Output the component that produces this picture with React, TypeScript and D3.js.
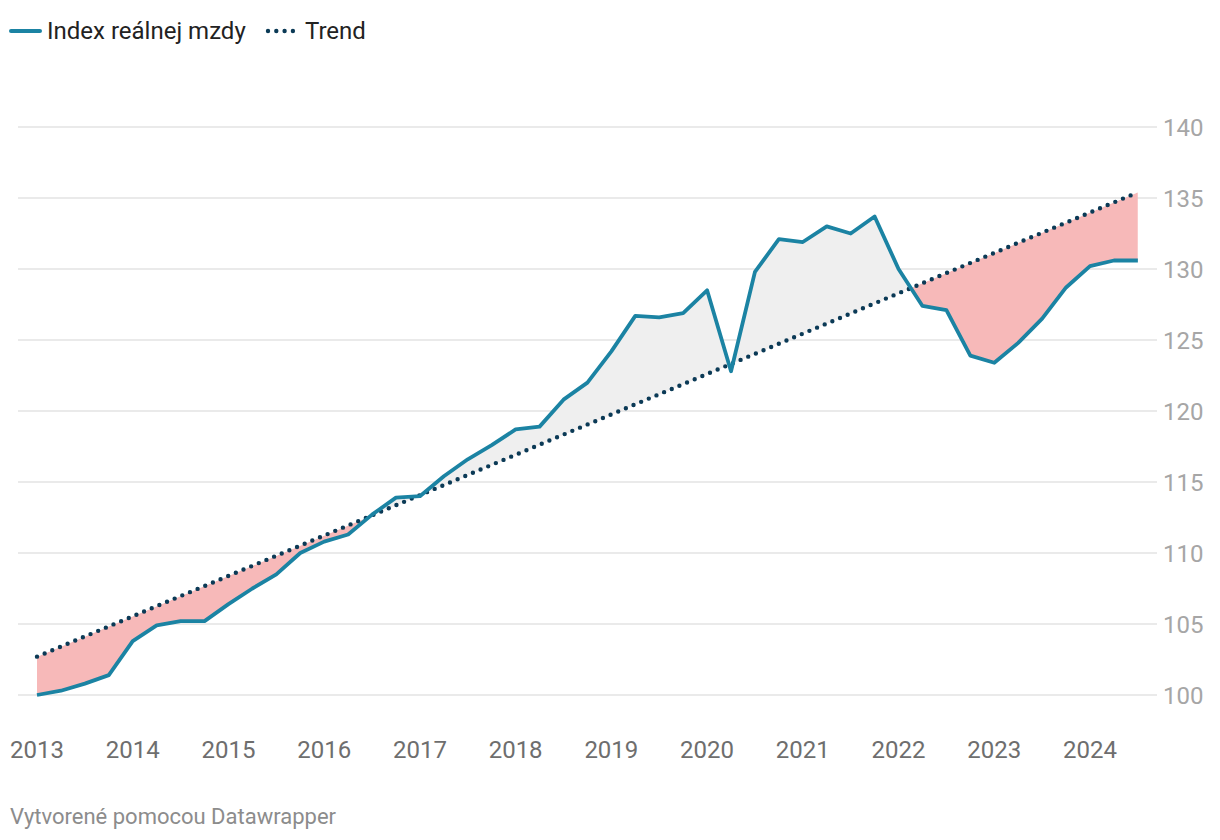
import { useMemo } from "react";
import * as d3 from "d3";

const width = 1220;
const height = 840;
const margin = { top: 127, right: 82, bottom: 145, left: 37 };

// quarterly observations, starting 2013 Q1
const startYear = 2013;
const wageIndex = [
  100.0, 100.3, 100.8, 101.4,
  103.8, 104.9, 105.2, 105.2,
  106.4, 107.5, 108.5, 110.0,
  110.8, 111.3, 112.7, 113.9,
  114.0, 115.4, 116.6, 117.6,
  118.7, 118.9, 120.8, 122.0,
  124.2, 126.7, 126.6, 126.9,
  128.5, 122.8, 129.8, 132.1,
  131.9, 133.0, 132.5, 133.7,
  130.0, 127.4, 127.1, 123.9,
  123.4, 124.8, 126.5, 128.7,
  130.2, 130.6, 130.6,
];
const trendStart = 102.7;
const trendEnd = 135.4;
const yTicks = [100, 105, 110, 115, 120, 125, 130, 135, 140];
const xTicks = [2013, 2014, 2015, 2016, 2017, 2018, 2019, 2020, 2021, 2022, 2023, 2024];

const lineColor = "#1b83a3";
const trendColor = "#0b3a56";
const font = "Roboto, 'Noto Sans', sans-serif";

const App = () => {
  const chart = useMemo(() => {
    const points = wageIndex.map((v, i) => ({ t: startYear + i * 0.25, v }));
    const tEnd = points[points.length - 1].t;

    const xScale = d3
      .scaleLinear()
      .domain([startYear, 2024])
      .range([margin.left, 1090]);
    const yScale = d3
      .scaleLinear()
      .domain([100, 140])
      .range([height - margin.bottom, margin.top]);

    const line = d3
      .line<{ t: number; v: number }>()
      .x((d) => xScale(d.t))
      .y((d) => yScale(d.v));

    const trendPts = [
      { t: startYear, v: trendStart },
      { t: tEnd, v: trendEnd },
    ];

    // polygon between data line and trend line
    const band = [...points, ...trendPts.slice().reverse()];
    const bandPath = line(band) + "Z";

    const x0 = xScale(startYear);
    const x1 = xScale(tEnd);
    const ty0 = yScale(trendStart);
    const ty1 = yScale(trendEnd);
    const belowClip = `M${x0},${ty0}L${x1},${ty1}L${x1},${height}L${x0},${height}Z`;
    const aboveClip = `M${x0},${ty0}L${x1},${ty1}L${x1},0L${x0},0Z`;

    return {
      xScale,
      yScale,
      linePath: line(points) as string,
      trendPath: line(trendPts) as string,
      bandPath,
      belowClip,
      aboveClip,
    };
  }, []);

  const { xScale, yScale } = chart;

  return (
    <svg
      width={width}
      height={height}
      style={{ position: "absolute", left: 0, top: 0, background: "#fff" }}
      fontFamily={font}
    >
      <defs>
        <clipPath id="below">
          <path d={chart.belowClip} />
        </clipPath>
        <clipPath id="above">
          <path d={chart.aboveClip} />
        </clipPath>
      </defs>

      {/* legend */}
      <line x1={11} x2={40} y1={31} y2={31} stroke={lineColor} strokeWidth={4} strokeLinecap="round" />
      <text x={47} y={39} fontSize={24} fill="#222">
        Index reálnej mzdy
      </text>
      <line
        x1={268}
        x2={297}
        y1={31}
        y2={31}
        stroke={trendColor}
        strokeWidth={4.4}
        strokeLinecap="round"
        strokeDasharray="0 8.3"
      />
      <text x={305} y={39} fontSize={24} fill="#222">
        Trend
      </text>

      {/* grid */}
      {yTicks.map((t) => (
        <g key={t}>
          <line x1={18} x2={1157} y1={yScale(t)} y2={yScale(t)} stroke="#e3e3e3" strokeWidth={1.5} />
          <text x={1163} y={yScale(t) + 8.5} fontSize={24} fill="#a6a6a6">
            {t}
          </text>
        </g>
      ))}

      {/* shaded gaps */}
      <path d={chart.bandPath} fill="#f7b9b9" clipPath="url(#below)" />
      <path d={chart.bandPath} fill="#efefef" clipPath="url(#above)" />

      {/* trend */}
      <path
        d={chart.trendPath}
        fill="none"
        stroke={trendColor}
        strokeWidth={4.4}
        strokeLinecap="round"
        strokeDasharray="0 8.3"
      />

      {/* index line */}
      <path d={chart.linePath} fill="none" stroke={lineColor} strokeWidth={3.8} strokeLinejoin="round" />

      {/* x axis labels */}
      {xTicks.map((t) => (
        <text key={t} x={xScale(t)} y={758} fontSize={24} fill="#6e6e6e" textAnchor="middle">
          {t}
        </text>
      ))}

      <text x={10} y={824} fontSize={22} fill="#8c8c8c">
        Vytvorené pomocou Datawrapper
      </text>
    </svg>
  );
};

export default App;
